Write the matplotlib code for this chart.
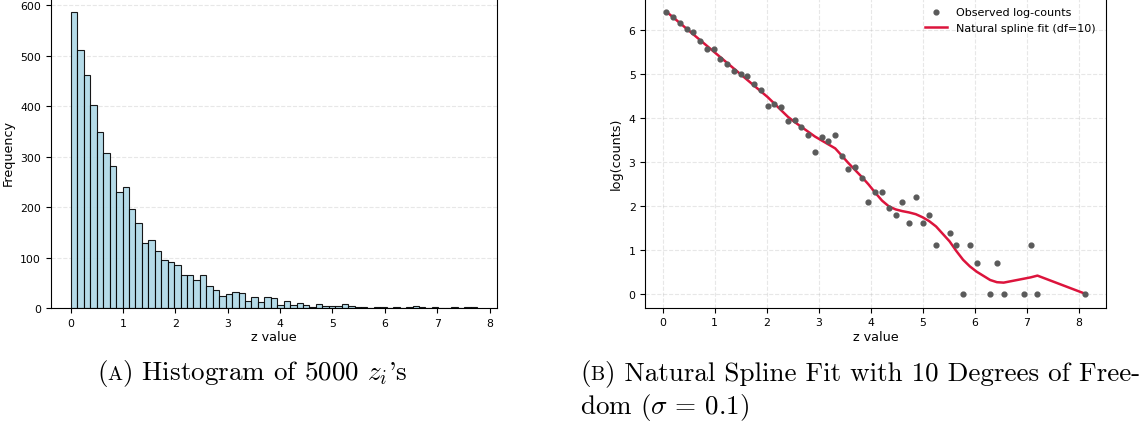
import matplotlib
matplotlib.use("Agg")
import matplotlib.pyplot as plt
import numpy as np

# ---- left panel: histogram of z (bar heights) ----
z_min, z_max = 0.007, 7.76
hist_counts = [587, 512, 462, 402, 348, 307, 281, 230, 240, 196, 168, 129, 135, 112, 96, 91,
               86, 65, 65, 56, 65, 44, 35, 24, 28, 31, 30, 14, 22,
               11, 21, 19, 6, 14, 6, 9, 6, 1, 7, 4, 3, 4, 8, 4,
               1, 1, 0, 1, 1, 0, 1, 0, 1, 3, 1, 0, 1, 0, 0, 1, 0, 1, 1]

# ---- right panel: observed log-counts and spline fitted values ----
obs_x = [0.07, 0.20, 0.33, 0.46, 0.59, 0.72, 0.85, 0.98, 1.11, 1.24, 1.37, 1.50, 1.63,
         1.76, 1.89, 2.02, 2.15, 2.28, 2.41, 2.54, 2.67, 2.80, 2.93, 3.06, 3.19, 3.32,
         3.45, 3.57, 3.70, 3.83, 3.96, 4.09, 4.22, 4.35, 4.48, 4.61, 4.74, 4.87, 5.00,
         5.13, 5.26, 5.52, 5.65, 5.78, 5.91, 6.04, 6.30, 6.43, 6.56, 6.95, 7.08, 7.21, 8.12]
obs_logc = [6.43, 6.30, 6.17, 6.03, 5.96, 5.76, 5.57, 5.58, 5.35, 5.23, 5.07, 5.01, 4.96,
            4.77, 4.65, 4.28, 4.33, 4.25, 3.94, 3.96, 3.80, 3.61, 3.23, 3.56, 3.47, 3.62,
            3.14, 2.84, 2.89, 2.64, 2.09, 2.31, 2.31, 1.95, 1.80, 2.09, 1.62, 2.21, 1.62,
            1.80, 1.10, 1.39, 1.10, 0.00, 1.10, 0.69, 0.00, 0.69, 0.00, 0.00, 1.10, 0.00, 0.00]
fit_logc = [6.43, 6.30, 6.17, 6.04, 5.91, 5.78, 5.65, 5.52, 5.39, 5.26, 5.13, 5.00, 4.87,
            4.74, 4.61, 4.48, 4.33, 4.18, 4.03, 3.91, 3.80, 3.69, 3.58, 3.49, 3.40, 3.31,
            3.14, 2.98, 2.82, 2.66, 2.49, 2.30, 2.12, 1.99, 1.92, 1.88, 1.85, 1.81, 1.74,
            1.65, 1.53, 1.19, 0.97, 0.77, 0.62, 0.50, 0.31, 0.26, 0.25, 0.34, 0.37, 0.41, 0.00]

cap_a = ["(", "A", ") Histogram of 5000 $z_i$'s"]
cap_b1 = ["(", "B", ") Natural Spline Fit with 10 Degrees of Free-"]
cap_b2 = "dom ($\\sigma\\,=\\,0.1$)"

plt.rcParams['mathtext.fontset'] = 'cm'

W, H = 1145, 431
fig = plt.figure(figsize=(W / 100, H / 100), dpi=100)

# histogram
ax1 = fig.add_axes([50.7 / W, 1 - 309 / H, 446.6 / W, 311 / H])
edges = np.linspace(z_min, z_max, len(hist_counts) + 1)
ax1.hist(edges[:-1], bins=edges, weights=hist_counts, color='lightblue',
         edgecolor='black', linewidth=0.8, alpha=0.9)
ax1.set_xticks(range(0, 9))
ax1.set_yticks(range(0, 700, 100))
ax1.grid(True, axis='y', linestyle='--', alpha=0.3)
ax1.set_axisbelow(True)
ax1.set_xlabel("z value", fontsize=9.2, labelpad=2)
ax1.set_ylabel("Frequency", fontsize=9.2)
ax1.tick_params(labelsize=7.8)

# spline fit
ax2 = fig.add_axes([645.3 / W, 1 - 308.7 / H, 460.4 / W, 310.3 / H])
ax2.scatter(obs_x, obs_logc, s=12, color='#5a5a5a', label='Observed log-counts', zorder=3)
ax2.plot(obs_x, fit_logc, color='crimson', linewidth=1.8, label='Natural spline fit (df=10)',
         zorder=2)
ax2.set_xticks(range(0, 9))
ax2.set_yticks(range(0, 7))
ax2.grid(True, linestyle='--', alpha=0.3)
ax2.set_xlabel("z value", fontsize=9.2, labelpad=2)
ax2.set_ylabel("log(counts)", fontsize=9.2)
ax2.tick_params(labelsize=7.8)
ax2.legend(loc='upper right', fontsize=8, frameon=False)

# captions with small-caps letters
cap_fs = 19.5
renderer = fig.canvas.get_renderer()


def caption(x, y, parts):
    for k, s in enumerate(parts):
        fs = cap_fs * 0.74 if k == 1 else cap_fs
        t = fig.text(x / W, 1 - y / H, s, fontsize=fs, family='cmr10',
                     ha='left', va='baseline')
        x += t.get_window_extent(renderer).width


caption(97, 380, cap_a)
caption(580, 380, cap_b1)
fig.text(580 / W, 1 - 414 / H, cap_b2, fontsize=cap_fs, family='cmr10',
         ha='left', va='baseline')

fig.savefig("out.png", dpi=100)
